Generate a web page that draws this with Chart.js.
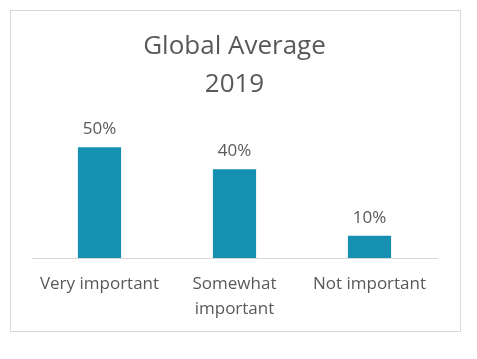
<!DOCTYPE html>
<html><head><meta charset="utf-8">
<script src="https://cdn.jsdelivr.net/npm/chart.js@4"></script>
<style>html,body{margin:0;padding:0;background:#fff}#wrap{position:absolute;left:0;top:0;width:477px;height:359px}</style>
</head><body><div id="wrap"><canvas id="c" width="477" height="359"></canvas></div>
<script>
const categories = [["Very important"], ["Somewhat", "important"], ["Not important"]];
const values = [50, 40, 10];
const valueLabels = ["50%", "40%", "10%"];
const titleLines = ["Global Average", "2019"];

const textColor = "#595959";
const fontFamily = "'Open Sans', 'Noto Sans', sans-serif";

const frame = {
  id: "frame",
  beforeDraw(chart) {
    const ctx = chart.ctx;
    ctx.save();
    ctx.fillStyle = "#fff";
    ctx.fillRect(0, 0, chart.width, chart.height);
    ctx.strokeStyle = "#d9d9d9";
    ctx.lineWidth = 1;
    ctx.strokeRect(10.5, 10.5, 450, 321);
    ctx.restore();
  }
};
const barLabels = {
  id: "barLabels",
  afterDatasetsDraw(chart) {
    const ctx = chart.ctx;
    const meta = chart.getDatasetMeta(0);
    ctx.save();
    ctx.fillStyle = textColor;
    ctx.font = "17px " + fontFamily;
    ctx.textAlign = "center";
    ctx.textBaseline = "middle";
    meta.data.forEach((bar, i) => {
      ctx.fillText(valueLabels[i], bar.x, bar.y - 18);
    });
    ctx.restore();
  }
};

new Chart(document.getElementById("c"), {
  type: "bar",
  data: {
    labels: categories,
    datasets: [{
      data: values,
      backgroundColor: "#1590b0",
      borderWidth: 0,
      categoryPercentage: 1,
      barPercentage: 0.32
    }]
  },
  options: {
    responsive: false,
    animation: false,
    devicePixelRatio: 1,
    layout: { padding: { left: 32, right: 40, top: 28, bottom: 31 } },
    plugins: {
      legend: { display: false },
      tooltip: { enabled: false },
      title: {
        display: true,
        text: titleLines,
        color: textColor,
        font: { family: fontFamily, size: 26, weight: "normal", lineHeight: "38px" },
        padding: { top: 0, bottom: 21 }
      }
    },
    scales: {
      y: { display: false, min: 0, max: 60 },
      x: {
        grid: { display: false },
        border: { display: true, color: "#d9d9d9", width: 1 },
        ticks: {
          color: textColor,
          font: { family: fontFamily, size: 17, lineHeight: "25px" },
          padding: 6,
          maxRotation: 0
        }
      }
    }
  },
  plugins: [frame, barLabels]
});
</script></body></html>
